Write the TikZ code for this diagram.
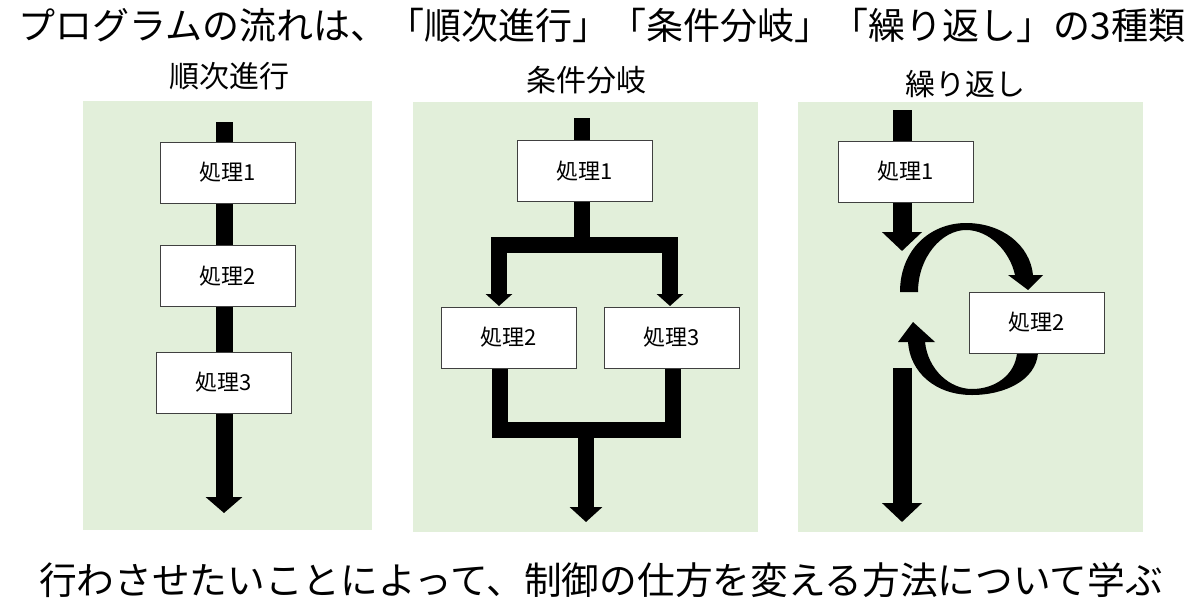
\documentclass[tikz,border=0pt]{standalone}
\usepackage{fontspec}
\setmainfont{Noto Sans CJK JP}
\usetikzlibrary{arrows.meta}
\definecolor{panelgreen}{RGB}{226,239,218}
\tikzset{
  procbox/.style={draw=black!75,line width=1pt,fill=white,
    minimum width=135pt,minimum height=61pt,inner sep=0pt,
    font=\fontsize{22}{26}\selectfont},
  flowtip/.style 2 args={-{Triangle[width=#1 0,length=#2 0]}},
  paneltitle/.style={font=\fontsize{30}{34}\selectfont}
}

\begin{document}
\begin{tikzpicture}[x=1pt,y=-1pt]
\useasboundingbox (0,0) rectangle (1200,611);
% Headline and closing line
\node[font=\fontsize{37}{42}\selectfont] (head) at (602,25) {プログラムの流れは、「順次進行」「条件分岐」「繰り返し」の3種類};
\node[font=\fontsize{37.7}{42}\selectfont] (foot) at (601,580) {行わさせたいことによって、制御の仕方を変える方法について学ぶ};
% Green panels
\fill[panelgreen] (83,101) rectangle (372,530);
\fill[panelgreen] (413,102) rectangle (758,532);
\fill[panelgreen] (798,102) rectangle (1143,532);
\node[paneltitle] (t1) at (229,76) {順次進行};
\node[paneltitle] (t2) at (586,80) {条件分岐};
\node[paneltitle] (t3) at (965,84) {繰り返し};

% Sequence: one straight line behind the boxes
\coordinate (s0) at (224,122);
\coordinate (s4) at (224,513);
\draw[line width=17pt,flowtip={36pt}{16pt}] (s0) -- (s4);
\node[procbox] (seq1) at (227.5,172.5) {処理1};
\node[procbox] (seq2) at (227.5,276) {処理2};
\node[procbox] (seq3) at (223.5,382.5) {処理3};

% Branch: fork above, join below
\node[procbox] (br1) at (584.5,171) {処理1};
\node[procbox] (br2) at (508.5,337.5) {処理2};
\node[procbox] (br3) at (671.5,337.5) {処理3};
\coordinate (b0) at (582,118);
\coordinate (fork) at (582,245);
\coordinate (join) at (586,430);
\coordinate (b9) at (586,522);
\draw[line width=16pt] (b0) -- (br1.north -| b0);
\draw[line width=16pt] (br1.south -| fork) -- (fork);
\draw[line width=16pt,line join=miter,flowtip={26pt}{12pt}] (fork) -- (499,245) -- (499,306);
\draw[line width=16pt,line join=miter,flowtip={26pt}{12pt}] (fork) -- (670,245) -- (670,306);
\draw[line width=16pt,line join=miter] (br2.south -| 500,0) -- (500,430) -- (673,430) -- (br3.south -| 673,0);
\draw[line width=16pt,flowtip={32pt}{15pt}] (join) -- (b9);

% Repetition: in, loop round box 2, out
\node[procbox] (rep1) at (905.5,171.5) {処理1};
\coordinate (r0) at (902,110);
\coordinate (r1) at (902,251);
\coordinate (r2) at (902,368);
\coordinate (r3) at (902,522);
\draw[line width=19pt] (r0) -- (rep1.north -| r0);
\draw[line width=19pt,flowtip={39pt}{19pt}] (rep1.south -| r1) -- (r1);
\draw[line width=19pt,flowtip={39pt}{19pt}] (r2) -- (r3);
% Curved arrows drawn as filled shapes
\fill (900,292) .. controls (900,250) and (930,223) .. (966,223)
  .. controls (1002,223) and (1030,245) .. (1033,275)
  -- (1043,275) -- (1028,290) -- (1008,275) -- (1015,275)
  .. controls (1010,252) and (990,230) .. (966,230)
  .. controls (942,230) and (918,257) .. (918,292) -- cycle;
\fill (1038,353) .. controls (1036,380) and (1005,395) .. (972,395)
  .. controls (935,395) and (910,372) .. (908,342)
  -- (898,342) -- (913,322) -- (935,342) -- (925,342)
  .. controls (928,370) and (950,389) .. (972,389)
  .. controls (995,389) and (1015,375) .. (1017,353) -- cycle;
\node[procbox] (rep2) at (1036.5,322.5) {処理2};
\end{tikzpicture}
\end{document}
